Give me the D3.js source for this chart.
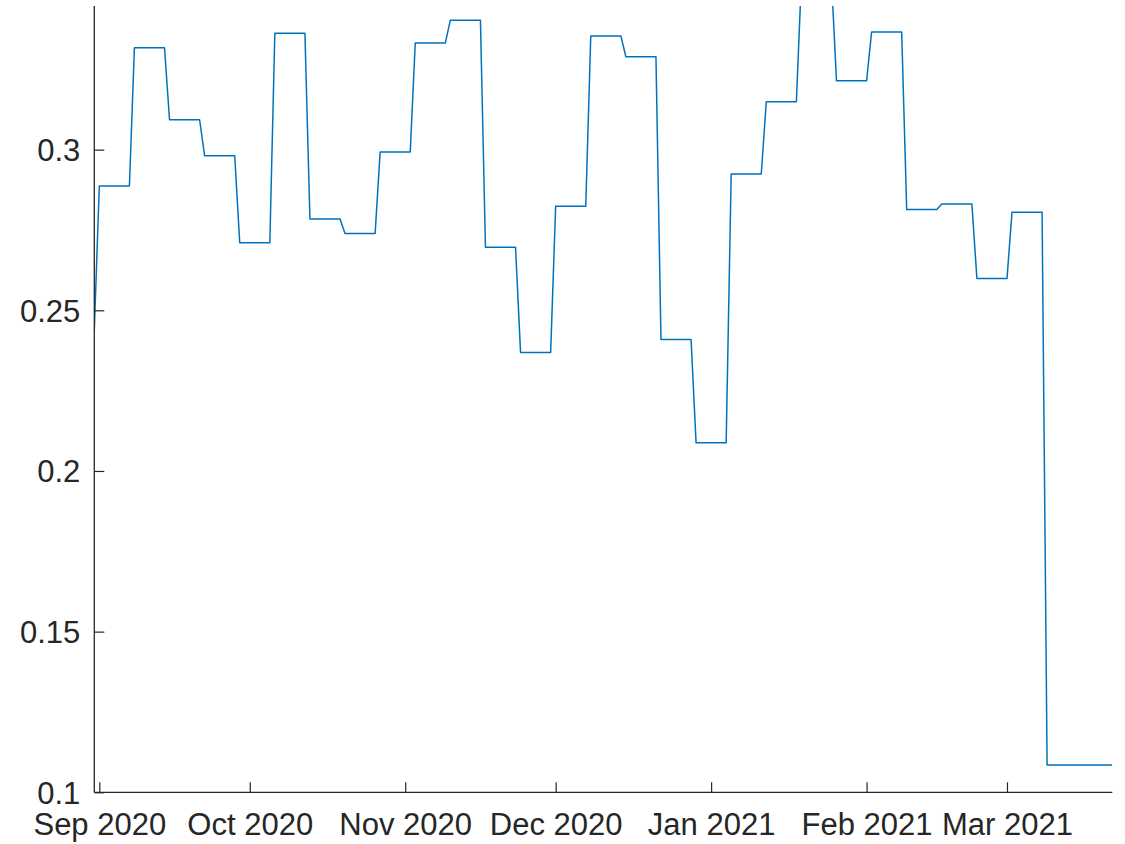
<!DOCTYPE html>
<html>
<head>
<meta charset="utf-8">
<script src="https://cdn.jsdelivr.net/npm/d3@7"></script>
<style>
  html, body { margin: 0; padding: 0; background: #fff; }
  svg { display: block; }
  .tick text { font-family: "Liberation Sans", Arial, Helvetica, sans-serif; }
</style>
</head>
<body>
<svg id="chart" width="1125" height="844"></svg>
<script>
// Weekly values: each period holds one value from its first to its last day.
const periodStart = [
  "2020-08-31", "2020-09-01", "2020-09-08", "2020-09-15", "2020-09-22", "2020-09-29",
  "2020-10-06", "2020-10-13", "2020-10-20", "2020-10-27", "2020-11-03", "2020-11-10",
  "2020-11-17", "2020-11-24", "2020-12-01", "2020-12-08", "2020-12-15", "2020-12-22",
  "2020-12-29", "2021-01-05", "2021-01-12", "2021-01-19", "2021-01-26", "2021-02-02",
  "2021-02-09", "2021-02-16", "2021-02-23", "2021-03-02", "2021-03-09"
];
const periodEnd = [
  "2020-08-31", "2020-09-07", "2020-09-14", "2020-09-21", "2020-09-28", "2020-10-05",
  "2020-10-12", "2020-10-19", "2020-10-26", "2020-11-02", "2020-11-09", "2020-11-16",
  "2020-11-23", "2020-11-30", "2020-12-07", "2020-12-14", "2020-12-21", "2020-12-28",
  "2021-01-04", "2021-01-11", "2021-01-18", "2021-01-25", "2021-02-01", "2021-02-08",
  "2021-02-15", "2021-02-22", "2021-03-01", "2021-03-08", "2021-03-22"
];
const periodValue = [
  0.2438, 0.2887, 0.3317, 0.3093, 0.2981, 0.2710,
  0.3362, 0.2784, 0.2739, 0.2993, 0.3332, 0.3403,
  0.2696, 0.2369, 0.2824, 0.3354, 0.3289, 0.2409,
  0.2088, 0.2924, 0.3149, 0.3530, 0.3214, 0.3366,
  0.2814, 0.2831, 0.2599, 0.2805, 0.1085
];

const xTickDates = ["2020-09-01", "2020-10-01", "2020-11-01", "2020-12-01", "2021-01-01", "2021-02-01", "2021-03-01"];
const xTickLabels = ["Sep 2020", "Oct 2020", "Nov 2020", "Dec 2020", "Jan 2021", "Feb 2021", "Mar 2021"];
const yTicks = [0.1, 0.15, 0.2, 0.25, 0.3];
const yLimits = [0.1, 0.3447];
const xLimits = ["2020-08-31", "2021-03-22"];

const parse = d3.utcParse("%Y-%m-%d");

const plotLeft = 94.3, plotRight = 1112.3, plotTop = 6, plotBottom = 792.3;
const axisColor = "#262626";
const lineColor = "#0072BD";

const x = d3.scaleUtc().domain(xLimits.map(parse)).range([plotLeft, plotRight]);
const y = d3.scaleLinear().domain(yLimits).range([plotBottom, plotTop]);

const svg = d3.select("#chart");

// Expand each period to its first and last day so the line steps week to week
const points = [];
periodStart.forEach((s, i) => {
  points.push({ date: parse(s), value: periodValue[i] });
  if (periodEnd[i] !== s) points.push({ date: parse(periodEnd[i]), value: periodValue[i] });
});

svg.append("defs").append("clipPath").attr("id", "plot-clip")
  .append("rect")
  .attr("x", plotLeft).attr("y", plotTop)
  .attr("width", plotRight - plotLeft).attr("height", plotBottom - plotTop);

svg.append("path")
  .datum(points)
  .attr("clip-path", "url(#plot-clip)")
  .attr("fill", "none")
  .attr("stroke", lineColor)
  .attr("stroke-width", 1.5)
  .attr("stroke-linejoin", "round")
  .attr("d", d3.line().x(d => x(d.date)).y(d => y(d.value)));

// Y axis: ticks point inward
const yAxis = d3.axisLeft(y)
  .tickValues(yTicks)
  .tickSize(-10)
  .tickPadding(14)
  .tickFormat(d => d3.format("")(+d.toFixed(2)));

const gy = svg.append("g").attr("transform", `translate(${plotLeft},0)`).call(yAxis);
gy.select(".domain").remove();
gy.selectAll(".tick line").attr("stroke", axisColor).attr("stroke-width", 1.2);
gy.selectAll(".tick text")
  .attr("fill", axisColor)
  .attr("font-size", 31)
  .attr("dy", "0.35em");

// X axis: monthly ticks pointing inward
const xAxis = d3.axisBottom(x)
  .tickValues(xTickDates.map(parse))
  .tickSize(-10)
  .tickPadding(0)
  .tickFormat((d, i) => xTickLabels[i]);

const gx = svg.append("g").attr("transform", `translate(0,${plotBottom})`).call(xAxis);
gx.select(".domain").remove();
gx.selectAll(".tick line").attr("stroke", axisColor).attr("stroke-width", 1.2);
gx.selectAll(".tick text")
  .attr("fill", axisColor)
  .attr("font-size", 31)
  .attr("y", 43)
  .attr("dy", 0);

// Axis lines along the left and bottom edges
svg.append("line")
  .attr("x1", plotLeft).attr("x2", plotLeft).attr("y1", plotTop).attr("y2", plotBottom)
  .attr("stroke", axisColor).attr("stroke-width", 1.3);
svg.append("line")
  .attr("x1", plotLeft).attr("x2", plotRight).attr("y1", plotBottom).attr("y2", plotBottom)
  .attr("stroke", axisColor).attr("stroke-width", 1.3);
</script>
</body>
</html>
